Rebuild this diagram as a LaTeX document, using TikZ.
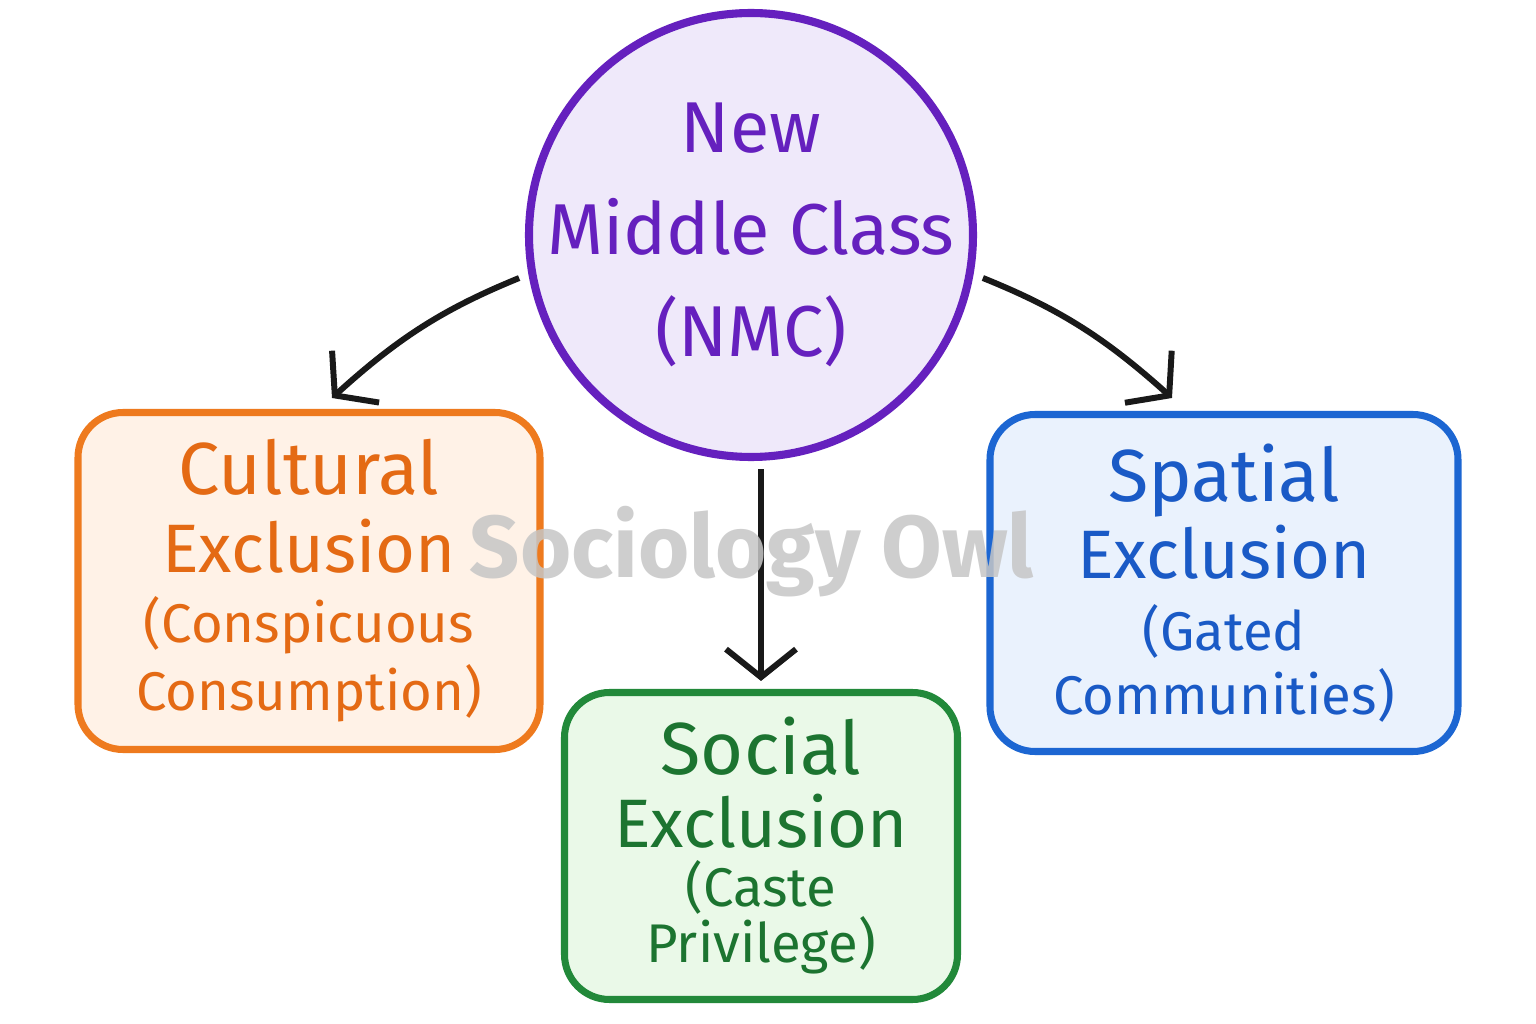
\documentclass[tikz,border=0pt]{standalone}
\usepackage{fontspec}
\setmainfont{Fira Sans}
\usetikzlibrary{arrows.meta,positioning}
\definecolor{nmcline}{HTML}{6520BE}
\definecolor{nmcfill}{HTML}{EFE9FA}
\definecolor{culline}{HTML}{EE7A1E}
\definecolor{culfill}{HTML}{FFF2E7}
\definecolor{cultext}{HTML}{E46A14}
\definecolor{socline}{HTML}{22893A}
\definecolor{socfill}{HTML}{EAF9E8}
\definecolor{soctext}{HTML}{1C7430}
\definecolor{spaline}{HTML}{1C66D2}
\definecolor{spafill}{HTML}{EAF2FD}
\definecolor{spatext}{HTML}{1A5AC6}
\tikzset{
  classcirc/.style={circle,draw=nmcline,fill=nmcfill,line width=2.3pt,minimum size=44.4mm,inner sep=0pt},
  classtext/.style={align=center,text=nmcline,font=\fontsize{20.5}{29}\selectfont},
  exclbox/.style={draw,rounded corners=4.5mm,line width=2pt,align=center,inner sep=0pt,font=\fontsize{21}{22}\selectfont},
  excarr/.style={-{Straight Barb[length=2.8mm,width=7mm,line width=1.7pt]},line width=1.7pt,black!90},
  owlmark/.style={text=gray!45,opacity=0.85,font=\fontsize{25}{27}\selectfont\bfseries}
}
\newcommand{\midln}{\fontsize{19.5}{22}\selectfont}
\newcommand{\smallln}{\fontsize{15.5}{19}\selectfont}
\begin{document}
\begin{tikzpicture}[x=0.1mm,y=-0.1mm]
  \fill[white] (0,0) rectangle (1536,1024);
  \useasboundingbox (0,0) rectangle (1536,1024);
  % centre circle
  \node[classcirc] (nmc) at (751,235) {};
  \node[classtext] (nmclbl) at (nmc.center) {New\\Middle Class\\(NMC)};
  % the three exclusions
  \node[exclbox,draw=culline,fill=culfill,text=cultext,minimum width=46.2mm,minimum height=33.7mm] (cult) at (309,581)
    {Cultural\\{\midln Exclusion}\\[-2pt]{\smallln (Conspicuous}\\[-2.6pt]{\smallln Consumption)}};
  \node[exclbox,draw=spaline,fill=spafill,text=spatext,minimum width=46.8mm,minimum height=33.7mm] (spat) at (1224,583)
    {Spatial\\{\midln Exclusion}\\[-1.5pt]{\smallln (Gated}\\[-4pt]{\smallln Communities)}};
  \node[exclbox,draw=socline,fill=socfill,text=soctext,minimum width=39.3mm,minimum height=30.7mm] (soc) at (761,846)
    {Social\\[-1.5pt]{\midln Exclusion}\\[-5pt]{\smallln (Caste}\\[-6pt]{\smallln Privilege)}};
  % arrow ends
  \coordinate (cultin) at (332,398);
  \coordinate (spatin) at (1172,398);
  \draw[excarr,shorten <=1mm] (nmc.190) to[bend right=10] (cultin);
  \draw[excarr,shorten <=1mm] (nmc.-10) to[bend left=10] (spatin);
  \draw[excarr,shorten <=0.8mm,shorten >=0.8mm] (soc.north |- nmc.south) -- (soc.north);
  % watermark
  \node[owlmark] (owl) at (752,552) {Sociology Owl};
\end{tikzpicture}
\end{document}
